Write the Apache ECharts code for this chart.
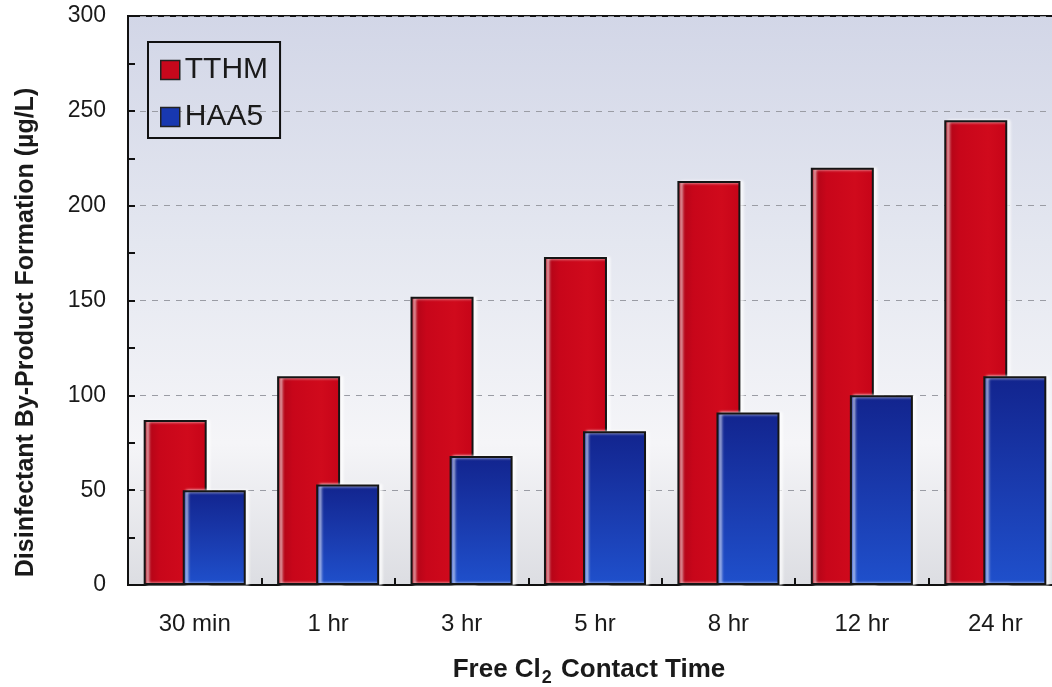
<!DOCTYPE html>
<html>
<head>
<meta charset="utf-8">
<script src="https://cdn.jsdelivr.net/npm/echarts@6/dist/echarts.min.js"></script>
<style>
  html, body { margin: 0; padding: 0; background: #ffffff; }
  #chart { width: 1052px; height: 687px; }
</style>
</head>
<body>
<div id="chart"></div>
<script>
// Contact times along the x axis
const categories = ['30 min', '1 hr', '3 hr', '5 hr', '8 hr', '12 hr', '24 hr'];
// Total trihalomethanes (µg/L)
const tthm = [87, 110, 152, 173, 213, 220, 245];
// Haloacetic acids (µg/L)
const haa5 = [50, 53, 68, 81, 91, 100, 110];
// Y axis range
const yMin = 0;
const yMax = 300;
const yStep = 50;

const G = echarts.graphic.LinearGradient;
const redFill = new G(0, 0, 1, 0, [
  { offset: 0, color: '#a80416' },
  { offset: 0.25, color: '#c8061a' },
  { offset: 0.7, color: '#d00a1c' },
  { offset: 1, color: '#c60418' }
]);
const blueFill = new G(0, 0, 0, 1, [
  { offset: 0, color: '#12248e' },
  { offset: 0.55, color: '#1a3cb0' },
  { offset: 1, color: '#1f50cc' }
]);

const chart = echarts.init(document.getElementById('chart'), null, { renderer: 'canvas' });

chart.setOption({
  animation: false,
  backgroundColor: '#ffffff',
  textStyle: { fontFamily: 'Liberation Sans, Arial, sans-serif', color: '#1a1a1a' },
  grid: {
    left: 128, top: 16, bottom: 102, right: -10,
    containLabel: false,
    outerBoundsMode: 'none',
    show: true,
    borderColor: '#111',
    borderWidth: 2,
    backgroundColor: new G(0, 0, 0, 1, [
      { offset: 0, color: '#d2d6e7' },
      { offset: 0.4, color: '#e4e7f0' },
      { offset: 0.75, color: '#f5f5f8' },
      { offset: 1, color: '#dcdde2' }
    ])
  },
  legend: {
    orient: 'vertical',
    left: 148, top: 42,
    padding: [13, 12, 6, 12],
    itemGap: 17,
    itemWidth: 19, itemHeight: 19,
    itemStyle: { borderColor: '#222', borderWidth: 1.5 },
    borderColor: '#111',
    borderWidth: 2,
    textStyle: { fontSize: 30, lineHeight: 30, color: '#1a1a1a' },
    data: [
      { name: 'TTHM', icon: 'rect', itemStyle: { color: '#c8081c' } },
      { name: 'HAA5', icon: 'rect', itemStyle: { color: '#1838b0' } }
    ]
  },
  xAxis: {
    type: 'category',
    data: categories,
    axisLine: { lineStyle: { color: '#111', width: 2 } },
    axisTick: { show: true, inside: true, length: 7, lineStyle: { color: '#111', width: 2 } },
    axisLabel: { fontSize: 24, margin: 27, color: '#1a1a1a' },
    name: '{t|Free Cl}{s|2}{t| Contact Time}',
    nameLocation: 'middle',
    nameGap: 70,
    nameTextStyle: {
      padding: [0, 12, 0, 0],
      rich: {
        t: { fontSize: 26, fontWeight: 'bold', color: '#1a1a1a', verticalAlign: 'bottom', lineHeight: 28 },
        s: { fontSize: 18, fontWeight: 'bold', color: '#1a1a1a', verticalAlign: 'bottom', lineHeight: 22, padding: [0, 2, -4, 1] }
      }
    }
  },
  yAxis: {
    type: 'value',
    min: yMin, max: yMax, interval: yStep,
    axisLine: { show: true, lineStyle: { color: '#111', width: 2 } },
    axisTick: { show: true, inside: true, length: 7, lineStyle: { color: '#111', width: 2 } },
    minorTick: { show: true, splitNumber: 2, length: 7, lineStyle: { color: '#111', width: 2 } },
    axisLabel: { fontSize: 23, margin: 22, color: '#1a1a1a' },
    splitLine: { show: true, lineStyle: { color: '#9a9ca4', type: [6, 6], width: 1 } },
    name: 'Disinfectant By-Product Formation (µg/L)',
    nameLocation: 'middle',
    nameGap: 89,
    nameTextStyle: { fontSize: 25, fontWeight: 'bold', color: '#1a1a1a', padding: [0, 64, 0, 0] }
  },
  series: [
    {
      name: 'TTHM',
      type: 'bar',
      data: tthm,
      barWidth: 63,
      barGap: '-38%',
      itemStyle: {
        color: redFill, borderColor: '#151515', borderWidth: 2,
        shadowColor: 'rgba(255,255,255,0.95)', shadowBlur: 3, shadowOffsetX: 3
      }
    },
    {
      name: 'HAA5',
      type: 'bar',
      data: haa5,
      barWidth: 63,
      itemStyle: {
        color: blueFill, borderColor: '#151515', borderWidth: 2,
        shadowColor: 'rgba(255,255,255,0.95)', shadowBlur: 3, shadowOffsetX: 3
      }
    }
  ]
});
</script>
</body>
</html>
